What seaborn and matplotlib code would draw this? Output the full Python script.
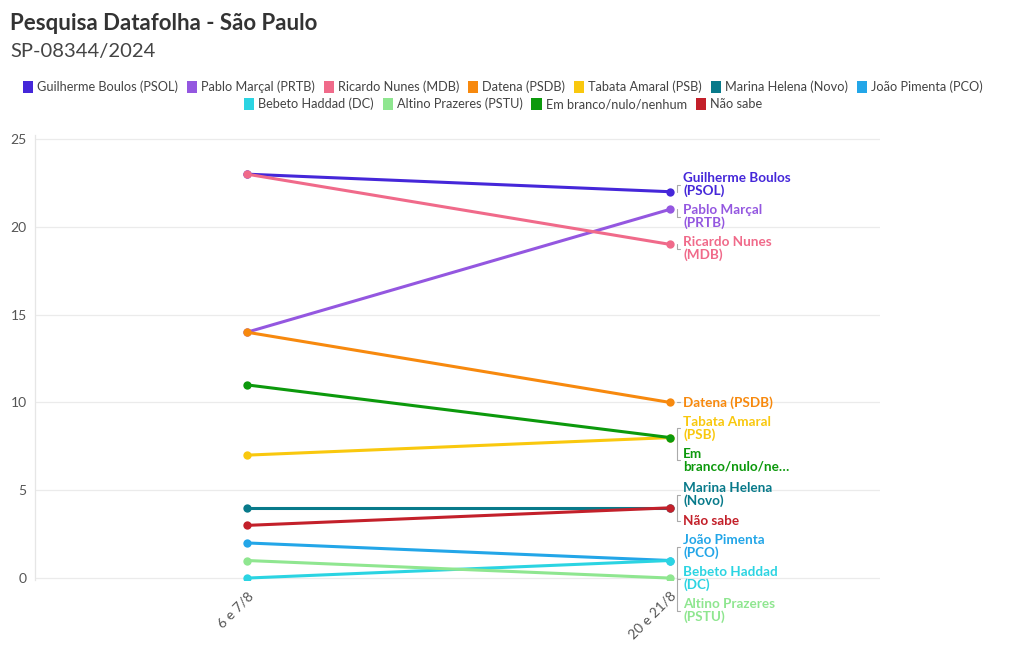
import matplotlib
matplotlib.use("Agg")
import matplotlib.pyplot as plt
import seaborn as sns
import pandas as pd
import numpy as np
from matplotlib.patches import Patch

# ---- data ----
periods = ["6 e 7/8", "20 e 21/8"]
candidates = ["Guilherme Boulos (PSOL)", "Pablo Marçal (PRTB)", "Ricardo Nunes (MDB)",
              "Datena (PSDB)", "Tabata Amaral (PSB)", "Marina Helena (Novo)",
              "João Pimenta (PCO)", "Bebeto Haddad (DC)", "Altino Prazeres (PSTU)",
              "Em branco/nulo/nenhum", "Não sabe"]
wave1 = [23, 14, 23, 14, 7, 4, 2, 0, 1, 11, 3]
wave2 = [22, 21, 19, 10, 8, 4, 1, 1, 0, 8, 4]
end_labels = ["Guilherme Boulos\n(PSOL)", "Pablo Marçal\n(PRTB)", "Ricardo Nunes\n(MDB)",
              "Datena (PSDB)", "Tabata Amaral\n(PSB)", "Marina Helena\n(Novo)",
              "João Pimenta\n(PCO)", "Bebeto Haddad\n(DC)", "Altino Prazeres\n(PSTU)",
              "Em\nbranco/nulo/ne…", "Não sabe"]
colors = ["#4527d9", "#9457e0", "#f06a8a", "#f7890e", "#f9c80e", "#087a8a",
          "#23a6e8", "#2bd4e2", "#8fe690", "#0c990c", "#c3202a"]
title = "Pesquisa Datafolha - São Paulo"
subtitle = "SP-08344/2024"
yticks = [0, 5, 10, 15, 20, 25]

rows = []
for c, a, b in zip(candidates, wave1, wave2):
    rows.append({"cand": c, "x": 0, "y": a})
    rows.append({"cand": c, "x": 1, "y": b})
df = pd.DataFrame(rows)

sns.set_theme(style="white")
plt.rcParams["font.family"] = ["Lato", "DejaVu Sans"]

W, H = 1020, 650
fig = plt.figure(figsize=(W / 100, H / 100), dpi=100)
ax = fig.add_axes([35 / W, 1 - 580 / H, (880 - 35) / W, (580 - 135) / H])

sns.lineplot(data=df, x="x", y="y", hue="cand", hue_order=candidates,
             palette=dict(zip(candidates, colors)), marker="o", markersize=6,
             markeredgewidth=0, linewidth=2.2, legend=False, ax=ax)

ax.set_xlim(-0.501, 1.496)
ax.set_ylim(-0.11, 25.23)
ax.set_xticks([0, 1])
ax.set_xticklabels(periods, rotation=45, ha="right", rotation_mode="anchor")
ax.set_yticks(yticks)
ax.tick_params(axis="both", length=0, labelsize=10, labelcolor="#555555")
ax.tick_params(axis="x", pad=7)
ax.tick_params(axis="y", pad=6)
ax.set_xlabel("")
ax.set_ylabel("")
ax.grid(axis="y", color="#ebebeb", linewidth=0.9)
ax.grid(axis="x", visible=False)
for s in ["top", "right", "bottom"]:
    ax.spines[s].set_visible(False)
ax.spines["left"].set_color("#e6e6e6")
ax.spines["left"].set_linewidth(0.9)
ax.set_axisbelow(True)

# ---- end labels with simple repel layout (pixel based) ----
fig.canvas.draw()
t0 = ax.transData.transform((0, 0))
t1 = ax.transData.transform((1, 1))
ppx = t1[0] - t0[0]
ppy = t1[1] - t0[1]
gap = 6 / ppy
heights = [(12 * (lab.count("\n") + 1) + 2) / ppy for lab in end_labels]
order = sorted(range(len(candidates)), key=lambda i: (-wave2[i], i))

clusters = []
for i in order:
    if clusters:
        j = clusters[-1][-1]
        if wave2[j] - heights[j] / 2 - gap < wave2[i] + heights[i] / 2:
            clusters[-1].append(i)
            continue
    clusters.append([i])

label_y = {}
prev_bottom = None
for cl in clusters:
    offs = [0.0]
    for a, b in zip(cl[:-1], cl[1:]):
        offs.append(offs[-1] + heights[a] / 2 + gap + heights[b] / 2)
    c = np.mean([wave2[i] + o for i, o in zip(cl, offs)])
    top = c + heights[cl[0]] / 2
    if prev_bottom is not None and top > prev_bottom - gap:
        c = prev_bottom - gap - heights[cl[0]] / 2
    for i, o in zip(cl, offs):
        label_y[i] = c - o
    prev_bottom = label_y[cl[-1]] - heights[cl[-1]] / 2

xc = 1 + 7 / ppx
for i in range(len(candidates)):
    ly = label_y[i]
    ax.plot([xc, xc, xc + 3 / ppx], [wave2[i], ly, ly], color="#aaaaaa",
            linewidth=0.8, clip_on=False, zorder=1)
    ax.text(1 + 13 / ppx, ly, end_labels[i], color=colors[i], fontsize=9.7,
            fontweight="bold", ha="left", va="center", linespacing=1.02,
            clip_on=False)

# ---- title ----
fig.text(10 / W, 1 - 24 / H, title, fontsize=16, fontweight="bold",
         color="#333333", ha="left", va="center")
fig.text(10 / W, 1 - 51 / H, subtitle, fontsize=14.5, color="#444444",
         ha="left", va="center")

# ---- legend (two centred rows) ----
def make_handles(idx):
    return [Patch(facecolor=colors[i], edgecolor="none") for i in idx], [candidates[i] for i in idx]

row1 = list(range(7))
row2 = list(range(7, 11))
for idx, yy in [(row1, 1 - 87 / H), (row2, 1 - 104 / H)]:
    h, l = make_handles(idx)
    fig.legend(h, l, loc="center", bbox_to_anchor=(0.493, yy), ncol=len(idx),
               frameon=False, fontsize=9.2, handlelength=0.8, handleheight=1.15,
               handletextpad=0.3, columnspacing=0.7, labelcolor="#444444",
               borderpad=0, borderaxespad=0)

fig.savefig("out.png", dpi=100)
